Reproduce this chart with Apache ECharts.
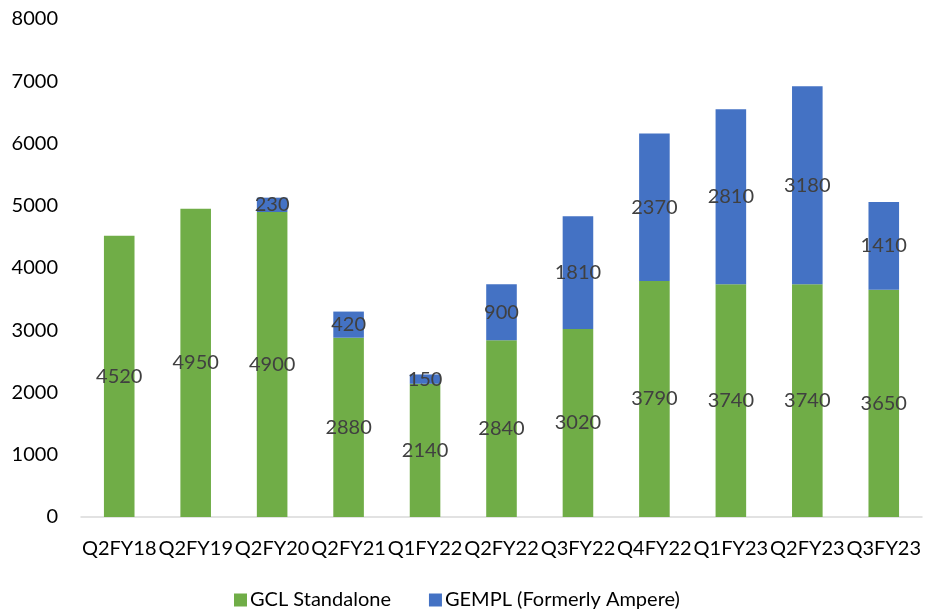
<!DOCTYPE html>
<html><head><meta charset="utf-8">
<script src="https://cdn.jsdelivr.net/npm/echarts@6/dist/echarts.min.js"></script>
<style>html,body{margin:0;padding:0;background:#fff}#c{width:933px;height:616px}</style>
</head><body><div id="c"></div>
<script>
const categories = ['Q2FY18','Q2FY19','Q2FY20','Q2FY21','Q1FY22','Q2FY22','Q3FY22','Q4FY22','Q1FY23','Q2FY23','Q3FY23'];
const gclStandalone = [4520,4950,4900,2880,2140,2840,3020,3790,3740,3740,3650];
const gempl = [null,null,230,420,150,900,1810,2370,2810,3180,1410];
const yTicks = {min:0,max:8000,interval:1000};

const FONT = 'Lato';
const chart = echarts.init(document.getElementById('c'));
const lbl = {show:true,position:'inside',color:'#404040',fontSize:20,fontFamily:FONT};
chart.setOption({
  animation:false,
  grid:{left:81,right:11,top:19,bottom:99},
  legend:{bottom:1,left:229,itemWidth:13,itemHeight:13,itemGap:38,icon:'rect',
    textStyle:{fontSize:20,fontFamily:FONT,color:'#000',padding:[0,0,0,-2]},
    data:['GCL Standalone','GEMPL (Formerly Ampere)']},
  xAxis:{type:'category',data:categories,
    axisLine:{lineStyle:{color:'#D9D9D9',width:1.5}},axisTick:{show:false},
    axisLabel:{color:'#000',fontSize:20,fontFamily:FONT,margin:22,interval:0}},
  yAxis:{type:'value',min:yTicks.min,max:yTicks.max,interval:yTicks.interval,
    splitLine:{show:false},axisLine:{show:false},axisTick:{show:false},
    axisLabel:{color:'#000',fontSize:20,fontFamily:FONT,margin:23,formatter:v=>String(v)}},
  series:[
    {name:'GCL Standalone',type:'bar',stack:'t',data:gclStandalone,barWidth:'40%',
      itemStyle:{color:'#70AD47'},label:lbl},
    {name:'GEMPL (Formerly Ampere)',type:'bar',stack:'t',data:gempl,barWidth:'40%',
      itemStyle:{color:'#4472C4'},label:lbl}
  ]
});
</script></body></html>
